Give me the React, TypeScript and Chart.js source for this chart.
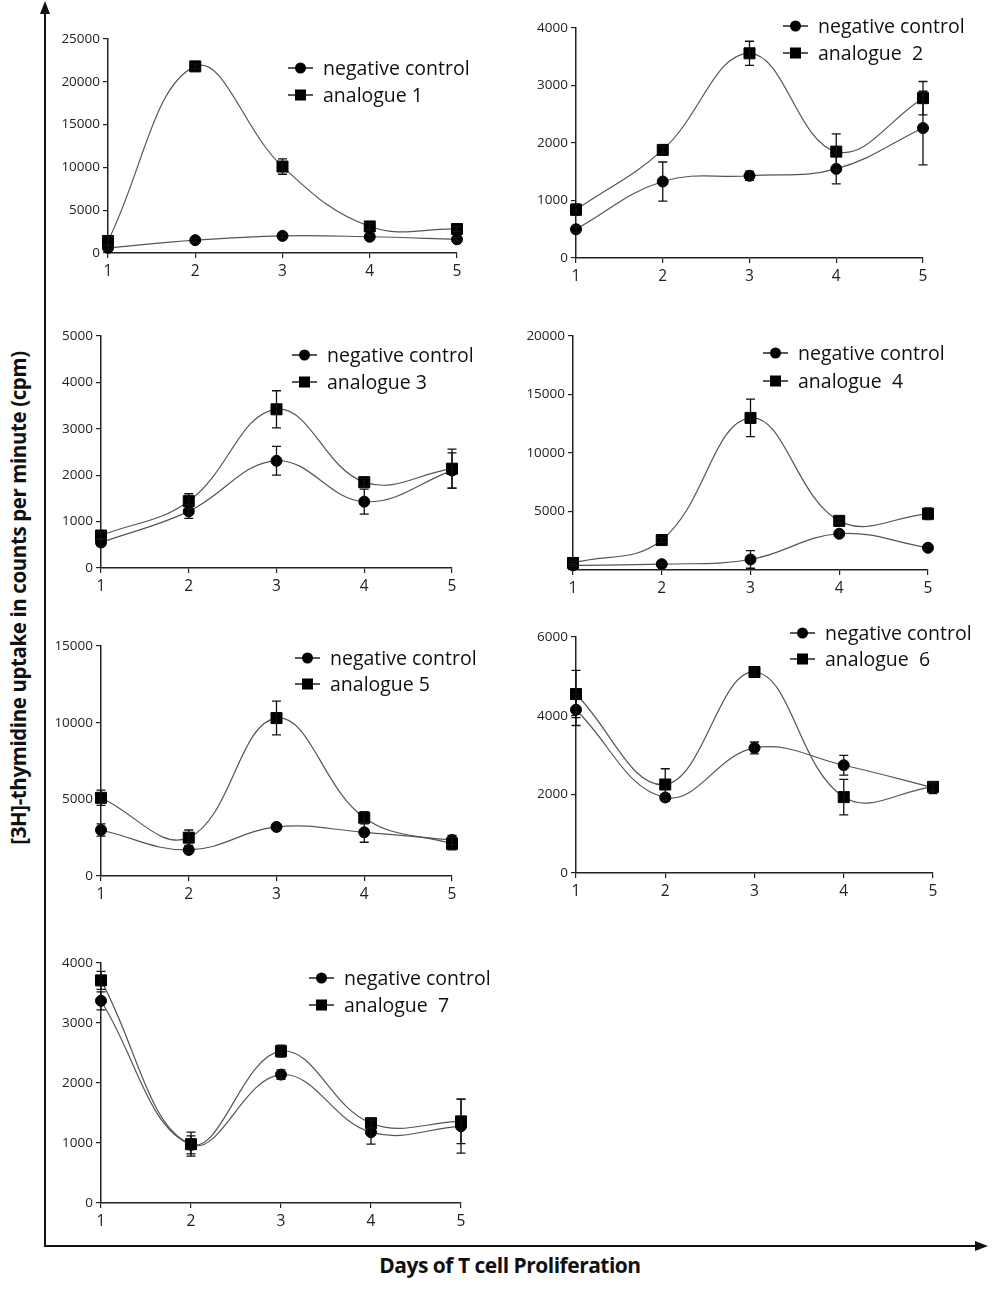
import React, { useEffect, useRef } from "react";
import { Chart, registerables } from "chart.js";
Chart.register(...registerables);

// ---------- data ----------
const days = [1, 2, 3, 4, 5];
const xTickLabels = ["1", "2", "3", "4", "5"];
const controlLabel = "negative control";
const analogueLabels = ["analogue 1", "analogue  2", "analogue 3", "analogue  4", "analogue 5", "analogue  6", "analogue  7"];

const yMaxes = [25000, 4000, 5000, 20000, 15000, 6000, 4000];
const ySteps = [5000, 1000, 1000, 5000, 5000, 2000, 1000];

const ctrl1 = [600, 1500, 2000, 1900, 1600];
const ctrl1Err = [300, 200, 250, 250, 200];
const ana1 = [1400, 21800, 10100, 3100, 2800];
const ana1Err = [500, 300, 900, 400, 300];

const ctrl2 = [500, 1330, 1430, 1550, 2260];
const ctrl2Err = [60, 340, 80, 260, 640];
const ana2 = [840, 1880, 3560, 1850, 2780];
const ana2Err = [100, 60, 210, 310, 290];

const ctrl3 = [550, 1220, 2310, 1430, 2100];
const ctrl3Err = [80, 150, 310, 270, 380];
const ana3 = [700, 1440, 3420, 1850, 2140];
const ana3Err = [80, 160, 400, 80, 420];

const ctrl4 = [400, 500, 900, 3100, 1900];
const ctrl4Err = [100, 100, 750, 200, 150];
const ana4 = [600, 2560, 13000, 4200, 4800];
const ana4Err = [150, 200, 1600, 200, 500];

const ctrl5 = [3000, 1700, 3200, 2850, 2350];
const ctrl5Err = [400, 150, 200, 650, 300];
const ana5 = [5100, 2500, 10300, 3800, 2100];
const ana5Err = [500, 500, 1100, 400, 400];

const ctrl6 = [4150, 1920, 3180, 2740, 2170];
const ctrl6Err = [400, 100, 150, 250, 150];
const ana6 = [4550, 2250, 5110, 1930, 2190];
const ana6Err = [600, 400, 100, 450, 100];

const ctrl7 = [3370, 970, 2140, 1180, 1280];
const ctrl7Err = [150, 150, 80, 200, 450];
const ana7 = [3710, 980, 2530, 1330, 1360];
const ana7Err = [150, 200, 100, 80, 370];

const controls = [ctrl1, ctrl2, ctrl3, ctrl4, ctrl5, ctrl6, ctrl7];
const controlErrs = [ctrl1Err, ctrl2Err, ctrl3Err, ctrl4Err, ctrl5Err, ctrl6Err, ctrl7Err];
const analogues = [ana1, ana2, ana3, ana4, ana5, ana6, ana7];
const analogueErrs = [ana1Err, ana2Err, ana3Err, ana4Err, ana5Err, ana6Err, ana7Err];

const yLabel = "[3H]-thymidine uptake in counts per minute (cpm)";
const xLabel = "Days of T cell Proliferation";

// ---------- layout (page px): plot area [left, right, top, bottom], legend [x, y, dy] ----------
const layouts = [
  { area: [108, 457, 39, 253], legend: [288, 68, 27], hideZero: false },
  { area: [576, 923, 28, 258], legend: [783, 26, 27], hideZero: false },
  { area: [101, 452, 336, 568], legend: [292, 355, 27], hideZero: false },
  { area: [573, 928, 336, 570], legend: [763, 353, 28], hideZero: true },
  { area: [101, 452, 646, 876], legend: [295, 658, 26], hideZero: false },
  { area: [576, 933, 637, 873], legend: [790, 633, 26], hideZero: false },
  { area: [101, 461, 963, 1203], legend: [309, 978, 27], hideZero: false },
];

const FONT = '"Open Sans", "Liberation Sans", sans-serif';

const errorBarPlugin = {
  id: "errorBars",
  afterDatasetsDraw(chart: any) {
    const { ctx } = chart;
    const xs = chart.scales.x;
    const ys = chart.scales.y;
    chart.data.datasets.forEach((ds: any) => {
      if (!ds.errors) return;
      ctx.save();
      ctx.strokeStyle = "#111";
      ctx.lineWidth = 1.3;
      ds.data.forEach((p: any, i: number) => {
        const e = ds.errors[i];
        const x = xs.getPixelForValue(p.x);
        const y1 = ys.getPixelForValue(p.y + e);
        const y2 = ys.getPixelForValue(Math.max(p.y - e, ys.min));
        ctx.beginPath();
        ctx.moveTo(x, y1);
        ctx.lineTo(x, y2);
        ctx.moveTo(x - 4.5, y1);
        ctx.lineTo(x + 4.5, y1);
        ctx.moveTo(x - 4.5, y2);
        ctx.lineTo(x + 4.5, y2);
        ctx.stroke();
      });
      ctx.restore();
    });
  },
};

const legendPlugin = {
  id: "panelLegend",
  afterDraw(chart: any, _args: any, opts: any) {
    const { ctx } = chart;
    chart.data.datasets.forEach((ds: any, i: number) => {
      const y = opts.y + i * opts.dy;
      const x = opts.x;
      ctx.save();
      ctx.strokeStyle = "#222";
      ctx.lineWidth = 1.5;
      ctx.beginPath();
      ctx.moveTo(x, y);
      ctx.lineTo(x + 25, y);
      ctx.stroke();
      ctx.fillStyle = "#000";
      if (ds.pointStyle === "rect") {
        ctx.fillRect(x + 12.5 - 5.5, y - 5.5, 11, 11);
      } else {
        ctx.beginPath();
        ctx.arc(x + 12.5, y, 5.5, 0, Math.PI * 2);
        ctx.fill();
      }
      ctx.fillStyle = "#111";
      ctx.font = `19.5px ${FONT}`;
      ctx.textBaseline = "middle";
      ctx.textAlign = "left";
      ctx.fillText(ds.label, x + 35, y + 1);
      ctx.restore();
    });
  },
};

const YW = 60;
const XH = 32;

function Panel({ idx }: { idx: number }) {
  const ref = useRef<HTMLCanvasElement>(null);
  const L = layouts[idx];
  const [aL, aR, aT, aB] = L.area;
  const [lx, ly, ldy] = L.legend;
  const cLeft = aL - YW;
  const cTop = Math.min(aT, ly) - 22;
  const cRight = Math.min(990, Math.max(aR + 16, lx + 215));
  const cBottom = aB + XH;
  const W = cRight - cLeft;
  const H = cBottom - cTop;

  useEffect(() => {
    if (!ref.current) return;
    const mk = (vals: number[]) => vals.map((v, i) => ({ x: days[i], y: v }));
    const common = {
      borderColor: "#555",
      borderWidth: 1.2,
      tension: 0.4,
      pointBackgroundColor: "#000",
      pointBorderColor: "#000",
      pointBorderWidth: 1,
      pointHoverRadius: 0,
      clip: false as any,
      fill: false,
    };
    const chart = new Chart(ref.current, {
      type: "line",
      data: {
        datasets: [
          {
            ...common,
            label: controlLabel,
            data: mk(controls[idx]),
            errors: controlErrs[idx],
            pointStyle: "circle",
            pointRadius: 5.5,
          } as any,
          {
            ...common,
            label: analogueLabels[idx],
            data: mk(analogues[idx]),
            errors: analogueErrs[idx],
            pointStyle: "rect",
            pointRadius: 7.8,
          } as any,
        ],
      },
      options: {
        animation: false,
        responsive: false,
        events: [],
        layout: { padding: { left: 0, top: aT - cTop, right: cRight - aR, bottom: 0 } },
        plugins: {
          legend: { display: false },
          tooltip: { enabled: false },
          panelLegend: { x: lx - cLeft, y: ly - cTop, dy: ldy },
        } as any,
        scales: {
          x: {
            type: "linear",
            min: 1,
            max: 5,
            afterFit: (s: any) => {
              s.height = XH;
            },
            ticks: {
              stepSize: 1,
              color: "#222",
              font: { family: FONT, size: 15.5 },
              padding: 4,
              callback: (v: any) => xTickLabels[days.indexOf(Number(v))] ?? "",
              maxRotation: 0,
            },
            grid: { drawOnChartArea: false, drawTicks: true, tickLength: 5, color: "#222", lineWidth: 1.2 },
            border: { color: "#222", width: 1.5 },
          },
          y: {
            type: "linear",
            min: 0,
            max: yMaxes[idx],
            afterFit: (s: any) => {
              s.width = YW;
            },
            ticks: {
              stepSize: ySteps[idx],
              color: "#222",
              font: { family: FONT, size: 13.5 },
              padding: 3,
              callback: (v: any) => (L.hideZero && Number(v) === 0 ? "" : String(v)),
            },
            grid: { drawOnChartArea: false, drawTicks: true, tickLength: 5, color: "#222", lineWidth: 1.2 },
            border: { color: "#222", width: 1.5 },
          },
        },
      } as any,
      plugins: [errorBarPlugin, legendPlugin] as any,
    });
    return () => chart.destroy();
  }, []);

  return (
    <canvas
      ref={ref}
      width={W}
      height={H}
      style={{ position: "absolute", left: cLeft, top: cTop, width: W, height: H }}
    />
  );
}

export default function App() {
  return (
    <div style={{ position: "absolute", left: 0, top: 0, width: 992, height: 1289, background: "#fff", overflow: "hidden" }}>
      {/* outer vertical axis with arrow */}
      <div style={{ position: "absolute", left: 44, top: 10, width: 2, height: 1237, background: "#111" }} />
      <div
        style={{
          position: "absolute",
          left: 40,
          top: 1,
          width: 0,
          height: 0,
          borderLeft: "5px solid transparent",
          borderRight: "5px solid transparent",
          borderBottom: "13px solid #111",
        }}
      />
      {/* outer horizontal axis with arrow */}
      <div style={{ position: "absolute", left: 44, top: 1245, width: 932, height: 2, background: "#111" }} />
      <div
        style={{
          position: "absolute",
          left: 975,
          top: 1241,
          width: 0,
          height: 0,
          borderTop: "5px solid transparent",
          borderBottom: "5px solid transparent",
          borderLeft: "13px solid #111",
        }}
      />
      <div
        style={{
          position: "absolute",
          left: 260,
          top: 1252,
          width: 500,
          textAlign: "center",
          fontFamily: FONT,
          fontWeight: 700,
          fontSize: 21,
          letterSpacing: -0.5,
          lineHeight: "26px",
          color: "#111",
          whiteSpace: "nowrap",
        }}
      >
        {xLabel}
      </div>
      <div
        style={{
          position: "absolute",
          left: 18 - 350,
          top: 598 - 13,
          width: 700,
          height: 26,
          lineHeight: "26px",
          textAlign: "center",
          transform: "rotate(-90deg)",
          transformOrigin: "50% 50%",
          fontFamily: FONT,
          fontWeight: 700,
          fontSize: 20.5,
          letterSpacing: -0.4,
          color: "#111",
          whiteSpace: "nowrap",
        }}
      >
        {yLabel}
      </div>
      {layouts.map((_, i) => (
        <Panel key={i} idx={i} />
      ))}
    </div>
  );
}
